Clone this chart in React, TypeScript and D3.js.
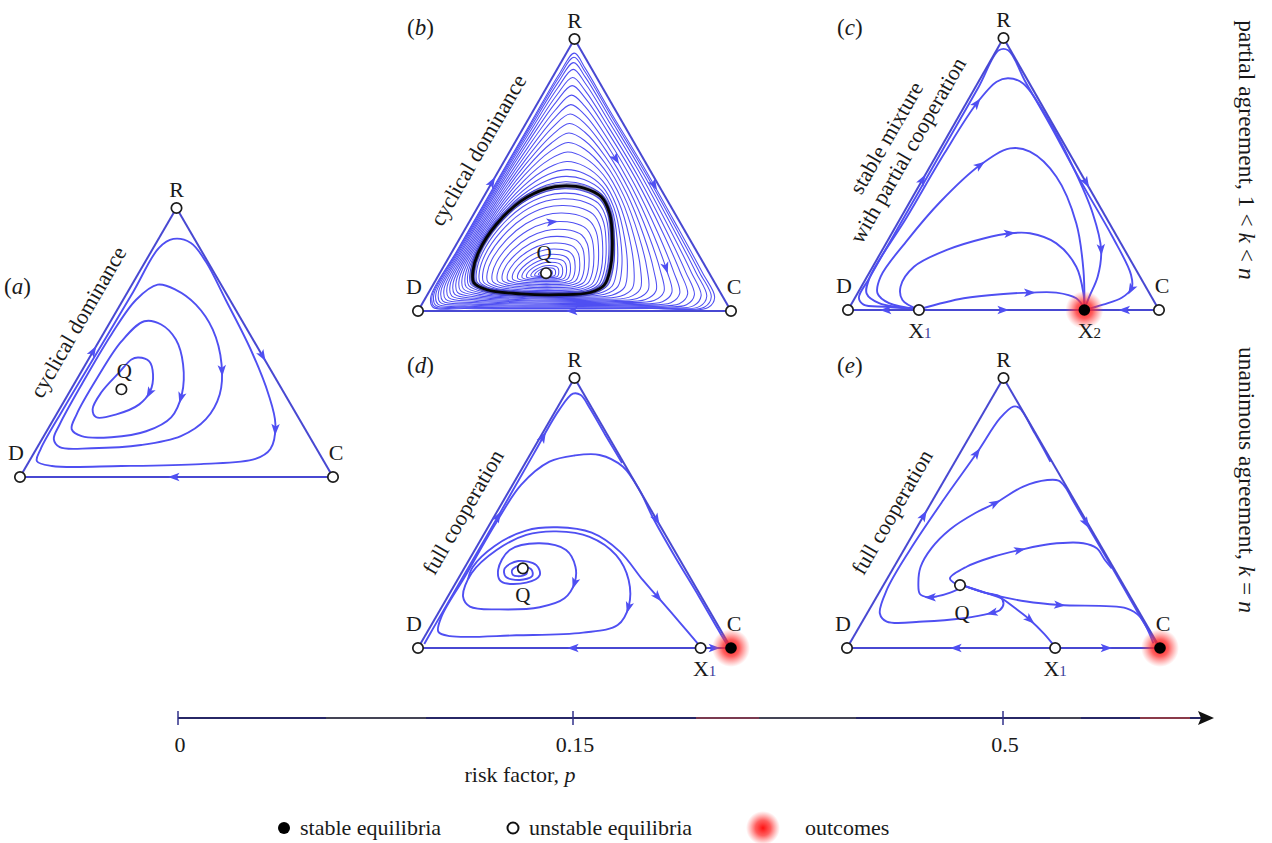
import React, { useEffect, useRef } from "react";
import * as d3 from "d3";

type Pt = [number, number];

// ======================= DATA =======================
const vertexLabels = ["D", "C", "R"];
const riskTicks = [0, 0.15, 0.5];
const riskTickLabels = ["0", "0.15", "0.5"];
const legendLabels = ["stable equilibria", "unstable equilibria", "outcomes"];
const panelLetters = ["a", "b", "c", "d", "e"];
const regimeLabels = [
  ["cyclical dominance"],
  ["cyclical dominance"],
  ["stable mixture", "with partial cooperation"],
  ["full cooperation"],
  ["full cooperation"],
];

// simplex vertices (normalised: u along D->C, v height towards R)
const vD: Pt = [0, 0];
const vC: Pt = [1, 0];
const vR: Pt = [0.5, 1];

// ---- panel (a): closed orbits around centre Q
const aQ: Pt = [0.324, 0.326];
const aOrbit1: Pt[] = [[0.49, 0.885], [0.546, 0.87], [0.594, 0.8], [0.657, 0.659], [0.737, 0.474], [0.794, 0.307], [0.816, 0.196], [0.8, 0.104], [0.752, 0.067], [0.578, 0.048], [0.324, 0.041], [0.102, 0.041], [0.054, 0.059], [0.066, 0.104], [0.138, 0.252], [0.252, 0.474], [0.362, 0.689], [0.444, 0.852]];
const aOrbit2: Pt[] = [[0.44, 0.715], [0.498, 0.696], [0.562, 0.641], [0.616, 0.548], [0.644, 0.419], [0.638, 0.307], [0.594, 0.215], [0.514, 0.152], [0.387, 0.119], [0.229, 0.107], [0.127, 0.111], [0.108, 0.141], [0.127, 0.196], [0.197, 0.344], [0.292, 0.53], [0.371, 0.659]];
const aOrbit3: Pt[] = [[0.397, 0.579], [0.451, 0.567], [0.498, 0.511], [0.521, 0.419], [0.517, 0.307], [0.483, 0.222], [0.403, 0.17], [0.292, 0.148], [0.197, 0.152], [0.165, 0.178], [0.181, 0.233], [0.244, 0.363], [0.324, 0.504]];
const aOrbit4: Pt[] = [[0.378, 0.444], [0.413, 0.43], [0.425, 0.381], [0.416, 0.319], [0.381, 0.27], [0.308, 0.233], [0.244, 0.222], [0.232, 0.252], [0.26, 0.315], [0.317, 0.389], [0.356, 0.437]];
const aArrows: Pt[] = [[0.492, 0], [0.235, 0.467], [0.775, 0.452], [0.81, 0.178], [0.647, 0.394], [0.52, 0.295], [0.409, 0.314]];

// ---- panel (b): limit cycle, boundary orbit and orbit levels
const bQ: Pt = [0.409, 0.139];
const bLimitCycle: Pt[] = [[0.47, 0.46], [0.53, 0.452], [0.585, 0.42], [0.612, 0.36], [0.621, 0.26], [0.615, 0.16], [0.595, 0.095], [0.55, 0.068], [0.45, 0.06], [0.33, 0.063], [0.22, 0.078], [0.178, 0.105], [0.176, 0.15], [0.195, 0.22], [0.25, 0.318], [0.33, 0.405], [0.41, 0.45]];
const bBoundaryOrbit: Pt[] = [[0.5, 0.958], [0.535, 0.9], [0.615, 0.74], [0.73, 0.52], [0.838, 0.3], [0.915, 0.14], [0.955, 0.05], [0.935, 0.012], [0.75, 0.008], [0.45, 0.006], [0.15, 0.008], [0.045, 0.012], [0.038, 0.05], [0.122, 0.22], [0.252, 0.48], [0.362, 0.7], [0.452, 0.88]];
const bInnerLevels = [0.1, 0.15, 0.2, 0.26, 0.32, 0.38, 0.45, 0.52, 0.59, 0.66, 0.73, 0.8, 0.86, 0.91, 0.95, 0.98];
const bOuterLevels = [0.03, 0.07, 0.12, 0.18, 0.25, 0.32, 0.39, 0.46, 0.53, 0.6, 0.67, 0.74, 0.8, 0.86, 0.91, 0.95, 0.98];
const bArrows: Pt[] = [[0.234, 0.472], [0.758, 0.467], [0.492, 0], [0.631, 0.558], [0.794, 0.159], [0.429, 0.331]];

// ---- panel (c)
const cX1: Pt = [0.228, 0];
const cX2: Pt = [0.76, 0];
const cTraj1: Pt[] = [[0.222, 0.004], [0.12, 0.012], [0.05, 0.02], [0.035, 0.045], [0.07, 0.12], [0.19, 0.36], [0.31, 0.6], [0.42, 0.82], [0.485, 0.955], [0.515, 0.955], [0.57, 0.84], [0.65, 0.68], [0.75, 0.47], [0.85, 0.27], [0.91, 0.13], [0.912, 0.08], [0.88, 0.045], [0.82, 0.02], [0.76, 0.0]];
const cTraj2: Pt[] = [[0.222, 0.004], [0.1, 0.025], [0.06, 0.06], [0.07, 0.12], [0.19, 0.343], [0.31, 0.576], [0.414, 0.76], [0.478, 0.839], [0.515, 0.852], [0.563, 0.833], [0.638, 0.711], [0.723, 0.527], [0.787, 0.355], [0.814, 0.221], [0.803, 0.123], [0.776, 0.049], [0.76, 0.002]];
const cTraj3: Pt[] = [[0.222, 0.004], [0.132, 0.025], [0.095, 0.061], [0.105, 0.123], [0.191, 0.257], [0.297, 0.398], [0.425, 0.533], [0.521, 0.594], [0.585, 0.582], [0.67, 0.49], [0.734, 0.319], [0.757, 0.147], [0.76, 0.006]];
const cTraj4: Pt[] = [[0.222, 0.004], [0.175, 0.037], [0.169, 0.086], [0.212, 0.159], [0.318, 0.221], [0.436, 0.263], [0.521, 0.282], [0.585, 0.282], [0.67, 0.245], [0.734, 0.159], [0.757, 0.061], [0.76, 0.005]];
const cTraj5: Pt[] = [[0.232, 0.004], [0.372, 0.043], [0.5, 0.059], [0.585, 0.064], [0.67, 0.064], [0.734, 0.043], [0.76, 0.005]];
const cArrows: Pt[] = [[0.121, 0], [0.498, 0], [0.888, 0], [0.244, 0.478], [0.766, 0.466], [0.414, 0.76], [0.814, 0.221], [0.425, 0.533], [0.521, 0.282], [0.585, 0.064], [0.895, 0.086]];

// ---- panel (d)
const dQ: Pt = [0.335, 0.295];
const dX1: Pt = [0.903, 0];
const dSpiral: Pt[] = [[0.338, 0.291], [0.348, 0.279], [0.335, 0.268], [0.304, 0.27], [0.301, 0.289], [0.325, 0.305], [0.362, 0.291], [0.365, 0.267], [0.325, 0.252], [0.28, 0.264], [0.277, 0.295], [0.32, 0.322], [0.378, 0.307], [0.389, 0.27], [0.346, 0.242], [0.266, 0.246], [0.256, 0.289],
  [0.293, 0.363], [0.389, 0.388], [0.473, 0.363], [0.503, 0.301], [0.5, 0.24], [0.468, 0.184], [0.389, 0.151], [0.261, 0.143], [0.166, 0.153], [0.144, 0.19], [0.171, 0.277], [0.251, 0.363], [0.346, 0.419], [0.442, 0.432], [0.548, 0.412], [0.633, 0.344], [0.673, 0.252], [0.673, 0.153], [0.638, 0.085], [0.527, 0.057], [0.314, 0.047], [0.102, 0.044], [0.065, 0.06], [0.075, 0.116], [0.15, 0.265], [0.25, 0.465], [0.33, 0.605], [0.42, 0.69], [0.5, 0.713], [0.58, 0.715], [0.654, 0.672], [0.71, 0.58], [0.749, 0.486], [0.815, 0.35], [0.898, 0.19], [0.958, 0.07], [0.99, 0.008]];
const dSeparatrix: Pt[] = [[0.16, 0.255], [0.175, 0.3], [0.245, 0.378], [0.345, 0.435], [0.445, 0.447], [0.555, 0.427], [0.645, 0.357], [0.718, 0.252], [0.765, 0.19], [0.834, 0.098], [0.9, 0.008]];
const dEdgeOrbit: Pt[] = [[0.02, 0.015], [0.047, 0.07], [0.132, 0.24], [0.252, 0.48], [0.37, 0.72], [0.45, 0.88], [0.495, 0.942], [0.52, 0.937], [0.548, 0.89], [0.598, 0.79], [0.652, 0.685]];
const dArrows: Pt[] = [[0.494, 0], [0.946, 0], [0.76, 0.474], [0.255, 0.486], [0.404, 0.777], [0.5, 0.24], [0.673, 0.153], [0.765, 0.19]];

// ---- panel (e)
const eQ: Pt = [0.361, 0.233];
const eX1: Pt = [0.665, 0];
const eTrajA: Pt[] = [[0.362, 0.222], [0.33, 0.205], [0.29, 0.192], [0.26, 0.188], [0.233, 0.2], [0.228, 0.24], [0.235, 0.3], [0.27, 0.37], [0.33, 0.44], [0.41, 0.5], [0.473, 0.536], [0.563, 0.598], [0.64, 0.622], [0.676, 0.62], [0.698, 0.595], [0.72, 0.55], [0.745, 0.5], [0.846, 0.3], [0.93, 0.13], [0.995, 0.005]];
const eTrajB: Pt[] = [[0.37, 0.232], [0.44, 0.205], [0.489, 0.19], [0.5, 0.165], [0.489, 0.141], [0.457, 0.128], [0.372, 0.11], [0.244, 0.098], [0.127, 0.098], [0.105, 0.128], [0.127, 0.215], [0.201, 0.363], [0.308, 0.548], [0.414, 0.721], [0.489, 0.851], [0.531, 0.894], [0.55, 0.89], [0.6, 0.795], [0.65, 0.69]];
const eTrajC: Pt[] = [[0.35, 0.236], [0.329, 0.258], [0.382, 0.301], [0.467, 0.338], [0.552, 0.363], [0.649, 0.385], [0.755, 0.388], [0.798, 0.369], [0.824, 0.326], [0.846, 0.295]];
const eTrajD: Pt[] = [[0.37, 0.232], [0.446, 0.203], [0.574, 0.172], [0.68, 0.159], [0.893, 0.147], [0.936, 0.116], [0.979, 0.017]];
const eTrajE: Pt[] = [[0.37, 0.232], [0.446, 0.203], [0.492, 0.185], [0.54, 0.145], [0.585, 0.104], [0.63, 0.052], [0.663, 0.006]];
const eArrows: Pt[] = [[0.35, 0], [0.83, 0], [0.239, 0.493], [0.766, 0.462], [0.265, 0.188], [0.473, 0.536], [0.462, 0.128], [0.414, 0.721], [0.552, 0.363], [0.68, 0.159], [0.585, 0.104]];

// ======================= LAYOUT / STYLE =======================
const FONT = "'Liberation Serif','Times New Roman',Times,serif";
const BLUE = "#4f4ff2";
const EDGE = "#4848d2";
const frames = [
  { dx: 20, cx: 333, base: 477, top: 208, letter: [4, 294], regime: [78, 322], qOff: [3, -11] },
  { dx: 418, cx: 731, base: 311, top: 39, letter: [407, 35], regime: [478, 150], qOff: [-2, -13] },
  { dx: 848, cx: 1159, base: 310, top: 38, letter: [837, 35], regime: [897, 144], qOff: [0, 0] },
  { dx: 418, cx: 731, base: 648, top: 378, letter: [407, 373], regime: [463, 512], qOff: [0, 34] },
  { dx: 847, cx: 1160, base: 648, top: 378, letter: [837, 373], regime: [892, 512], qOff: [2, 35] },
];

function buildBOrbits(): Pt[][] {
  const cu = d3.mean(bLimitCycle, (p) => p[0]) as number;
  const cv = d3.mean(bLimitCycle, (p) => p[1]) as number;
  const inner = bInnerLevels.map((s) => {
    const c0 = bQ[0] + s * s * (cu - bQ[0]);
    const c1 = bQ[1] + s * s * (cv - bQ[1]);
    const fv = s * (0.45 + 0.55 * s);
    return bLimitCycle.map((p) => [c0 + s * (p[0] - cu), c1 + fv * (p[1] - cv)] as Pt);
  });
  const outer = bOuterLevels.map((t) =>
    bLimitCycle.map((p, i) => [p[0] + t * (bBoundaryOrbit[i][0] - p[0]), p[1] + t * (bBoundaryOrbit[i][1] - p[1])] as Pt)
  );
  return [...inner, ...outer];
}

const panels = [
  { edges: [[vD, vR], [vR, vC], [vC, vD]], loops: [aOrbit1, aOrbit2, aOrbit3, aOrbit4], thin: [], trajs: [], arrows: aArrows, unstable: [vD, vC, vR, aQ], stable: [], q: aQ, xLabels: [] },
  { edges: [[vD, vR], [vR, vC], [vC, vD]], loops: [], thin: buildBOrbits(), cycle: bLimitCycle, trajs: [], arrows: bArrows, unstable: [vD, vC, vR, bQ], stable: [], q: bQ, xLabels: [] },
  { edges: [[cX1, vD], [cX1, cX2], [vC, cX2], [vD, vR], [vR, vC]], loops: [], thin: [], trajs: [cTraj1, cTraj2, cTraj3, cTraj4, cTraj5], arrows: cArrows, unstable: [vD, vC, vR, cX1], stable: [cX2], q: null, xLabels: [[cX1, "1", 1], [cX2, "2", 5]] },
  { edges: [[dX1, vD], [dX1, vC], [vD, vR], [vR, vC]], loops: [], thin: [], trajs: [dEdgeOrbit, dSpiral, dSeparatrix], arrows: dArrows, unstable: [vD, vR, dQ, dX1], stable: [vC], q: dQ, xLabels: [[dX1, "1", 4]] },
  { edges: [[eX1, vD], [eX1, vC], [vD, vR], [vR, vC]], loops: [], thin: [], trajs: [eTrajA, eTrajB, eTrajC, eTrajD, eTrajE], arrows: eArrows, unstable: [vD, vR, eQ, eX1], stable: [vC], q: eQ, xLabels: [[eX1, "1", 0]] },
];

function placeArrows(g: any, paths: SVGPathElement[], targets: [number, number][]) {
  const samples = paths.map((p) => {
    const L = p.getTotalLength();
    const arr: number[][] = [];
    for (let s = 0; s <= L; s += 1.5) {
      const q = p.getPointAtLength(s);
      arr.push([q.x, q.y, s]);
    }
    return { p, L, arr };
  });
  targets.forEach(([tx, ty]) => {
    let best: any = { d: Infinity, p: null, s: 0, L: 0 };
    samples.forEach((S) =>
      S.arr.forEach(([x, y, s]) => {
        const d = (x - tx) ** 2 + (y - ty) ** 2;
        if (d < best.d) best = { d, p: S.p, s, L: S.L };
      })
    );
    if (!best.p) return;
    const a = best.p.getPointAtLength(Math.max(0, best.s - 2.5));
    const b = best.p.getPointAtLength(Math.min(best.L, best.s + 2.5));
    const c = best.p.getPointAtLength(best.s);
    const ang = (Math.atan2(b.y - a.y, b.x - a.x) * 180) / Math.PI;
    g.append("path")
      .attr("d", "M6,0 L-5.5,-4.2 L-2.8,0 L-5.5,4.2 Z")
      .attr("transform", `translate(${c.x},${c.y}) rotate(${ang})`)
      .attr("fill", BLUE);
  });
}

function drawPanel(svg: any, p: any, i: number) {
  const f = frames[i];
  const g = svg.append("g");
  const x = d3.scaleLinear().domain([0, 1]).range([f.dx, f.cx]);
  const y = d3.scaleLinear().domain([0, 1]).range([f.base, f.top]);
  const smooth = d3.line<Pt>().x((d) => x(d[0])).y((d) => y(d[1])).curve(d3.curveCatmullRom.alpha(0.5));
  const closed = d3.line<Pt>().x((d) => x(d[0])).y((d) => y(d[1])).curve(d3.curveCatmullRomClosed.alpha(0.5));
  const straight = d3.line<Pt>().x((d) => x(d[0])).y((d) => y(d[1]));
  const paths: SVGPathElement[] = [];

  p.thin.forEach((l: Pt[]) => {
    paths.push(g.append("path").attr("d", closed(l)).attr("fill", "none").attr("stroke", BLUE).attr("stroke-width", 1.05).node());
  });
  if (p.cycle) {
    g.append("path").attr("d", closed(p.cycle)).attr("fill", "none").attr("stroke", "#2a2a90").attr("stroke-width", 5.5).attr("stroke-opacity", 0.55);
    g.append("path").attr("d", closed(p.cycle)).attr("fill", "none").attr("stroke", "#050505").attr("stroke-width", 2.8);
  }
  p.loops.forEach((l: Pt[]) => {
    paths.push(g.append("path").attr("d", closed(l)).attr("fill", "none").attr("stroke", BLUE).attr("stroke-width", 1.9).node());
  });
  p.trajs.forEach((l: Pt[]) => {
    paths.push(g.append("path").attr("d", smooth(l)).attr("fill", "none").attr("stroke", BLUE).attr("stroke-width", 1.9).node());
  });
  p.edges.forEach((e: Pt[]) => {
    paths.push(g.append("path").attr("d", straight(e)).attr("fill", "none").attr("stroke", EDGE).attr("stroke-width", 2).node());
  });

  placeArrows(g, paths, p.arrows.map((a: Pt) => [x(a[0]), y(a[1])]));

  // outcome glow + stable points
  p.stable.forEach((s: Pt) => {
    g.append("circle").attr("cx", x(s[0])).attr("cy", y(s[1])).attr("r", 19).attr("fill", "url(#glow)");
  });
  p.unstable.forEach((s: Pt) => {
    g.append("circle").attr("cx", x(s[0])).attr("cy", y(s[1])).attr("r", 5.2).attr("fill", "#fff").attr("stroke", "#1c1c1c").attr("stroke-width", 1.7);
  });
  p.stable.forEach((s: Pt) => {
    g.append("circle").attr("cx", x(s[0])).attr("cy", y(s[1])).attr("r", 5.8).attr("fill", "#000");
  });

  const txt = (tx: number, ty: number, s: string, size = 22) =>
    g.append("text").attr("x", tx).attr("y", ty).attr("text-anchor", "middle").attr("font-family", FONT).attr("font-size", size).attr("fill", "#1a1a1a").text(s);

  // vertex labels
  txt(x(vD[0]) - 4, y(vD[1]) - 17, vertexLabels[0]);
  txt(x(vC[0]) + 3, y(vC[1]) - 17, vertexLabels[1]);
  txt(x(vR[0]), y(vR[1]) - 11, vertexLabels[2]);
  if (p.q) txt(x(p.q[0]) + f.qOff[0], y(p.q[1]) + f.qOff[1], "Q", 21);
  p.xLabels.forEach(([pt, sub, off]: any) => {
    const t = g.append("text").attr("x", x(pt[0]) + off).attr("y", y(pt[1]) + 28).attr("text-anchor", "middle").attr("font-family", FONT).attr("font-size", 22).attr("fill", "#1a1a1a");
    t.append("tspan").text("X");
    t.append("tspan").attr("font-size", 15).attr("fill", sub === "1" ? "#3a3a9a" : "#1a1a1a").text(sub);
  });

  // panel letter
  const lt = g.append("text").attr("x", f.letter[0]).attr("y", f.letter[1]).attr("font-family", FONT).attr("font-size", 23).attr("fill", "#1a1a1a");
  lt.append("tspan").text("(");
  lt.append("tspan").attr("font-style", "italic").text(panelLetters[i]);
  lt.append("tspan").text(")");

  // regime label along the left edge
  const lines = regimeLabels[i];
  const rg = g.append("g").attr("transform", `translate(${f.regime[0]},${f.regime[1]}) rotate(-60)`);
  lines.forEach((s, k) => {
    rg.append("text").attr("x", 0).attr("y", (k - (lines.length - 1) / 2) * 25).attr("text-anchor", "middle").attr("dominant-baseline", "central").attr("font-family", FONT).attr("font-size", 22).attr("fill", "#1a1a1a").text(s);
  });
}

export default function App() {
  const ref = useRef<SVGSVGElement>(null);
  useEffect(() => {
    const svg = d3.select(ref.current);
    svg.selectAll("*").remove();
    const defs = svg.append("defs");
    const grad = defs.append("radialGradient").attr("id", "glow");
    grad.append("stop").attr("offset", "0%").attr("stop-color", "#ff1010").attr("stop-opacity", 1);
    grad.append("stop").attr("offset", "45%").attr("stop-color", "#ff2a2a").attr("stop-opacity", 0.75);
    grad.append("stop").attr("offset", "100%").attr("stop-color", "#ff5050").attr("stop-opacity", 0);

    panels.forEach((p, i) => drawPanel(svg, p, i));

    // risk-factor axis
    const rx = d3.scaleLinear().domain(riskTicks).range([178, 573, 1003]);
    const ax = svg.append("g");
    const ay = 718;
    ax.append("line").attr("x1", rx(0)).attr("x2", 1203).attr("y1", ay).attr("y2", ay).attr("stroke", "#272766").attr("stroke-width", 2);
    [[326, 426, "#444455"], [696, 759, "#7a3a50"], [759, 856, "#444455"], [1050, 1081, "#444455"], [1140, 1190, "#8a3a4a"]].forEach(([a, b, c]: any) =>
      ax.append("line").attr("x1", a).attr("x2", b).attr("y1", ay).attr("y2", ay).attr("stroke", c).attr("stroke-width", 2)
    );
    ax.append("path").attr("d", `M${1214},${ay} L${1198},${ay - 7} L${1201},${ay} L${1198},${ay + 7} Z`).attr("fill", "#111");
    riskTicks.forEach((t, k) => {
      ax.append("line").attr("x1", rx(t)).attr("x2", rx(t)).attr("y1", ay - 7).attr("y2", ay + 7).attr("stroke", "#30308a").attr("stroke-width", 1.5);
      ax.append("text").attr("x", rx(t) + 2).attr("y", ay + 34).attr("text-anchor", "middle").attr("font-family", FONT).attr("font-size", 22).attr("fill", "#1a1a1a").text(riskTickLabels[k]);
    });
    const rl = ax.append("text").attr("x", 520).attr("y", 782).attr("text-anchor", "middle").attr("font-family", FONT).attr("font-size", 22).attr("fill", "#1a1a1a");
    rl.append("tspan").text("risk factor, ");
    rl.append("tspan").attr("font-style", "italic").text("p");

    // legend
    const lg = svg.append("g");
    const ly = 828;
    lg.append("circle").attr("cx", 284).attr("cy", ly).attr("r", 6).attr("fill", "#000");
    lg.append("text").attr("x", 300).attr("y", ly + 7).attr("font-family", FONT).attr("font-size", 22).attr("fill", "#1a1a1a").text(legendLabels[0]);
    lg.append("circle").attr("cx", 513).attr("cy", ly).attr("r", 5.5).attr("fill", "#fff").attr("stroke", "#111").attr("stroke-width", 2);
    lg.append("text").attr("x", 529).attr("y", ly + 7).attr("font-family", FONT).attr("font-size", 22).attr("fill", "#1a1a1a").text(legendLabels[1]);
    lg.append("circle").attr("cx", 763).attr("cy", ly).attr("r", 17).attr("fill", "url(#glow)");
    lg.append("text").attr("x", 805).attr("y", ly + 7).attr("font-family", FONT).attr("font-size", 22).attr("fill", "#1a1a1a").text(legendLabels[2]);

    // row labels (rotated)
    const rowDefs: [number, (string | [string])[]][] = [
      [150, ["partial agreement, 1 < ", ["k"], " < ", ["n"]]],
      [480, ["unanimous agreement, ", ["k"], " = ", ["n"]]],
    ];
    rowDefs.forEach(([cy, parts]) => {
      const t = svg.append("text").attr("transform", `translate(1247,${cy}) rotate(90)`).attr("text-anchor", "middle").attr("dominant-baseline", "central").attr("font-family", FONT).attr("font-size", 23.5).attr("fill", "#1a1a1a");
      parts.forEach((pt) => {
        if (Array.isArray(pt)) t.append("tspan").attr("font-style", "italic").text(pt[0]);
        else t.append("tspan").text(pt);
      });
    });
  }, []);
  return <svg ref={ref} width={1272} height={843} style={{ position: "absolute", left: 0, top: 0, background: "#fff" }} />;
}
